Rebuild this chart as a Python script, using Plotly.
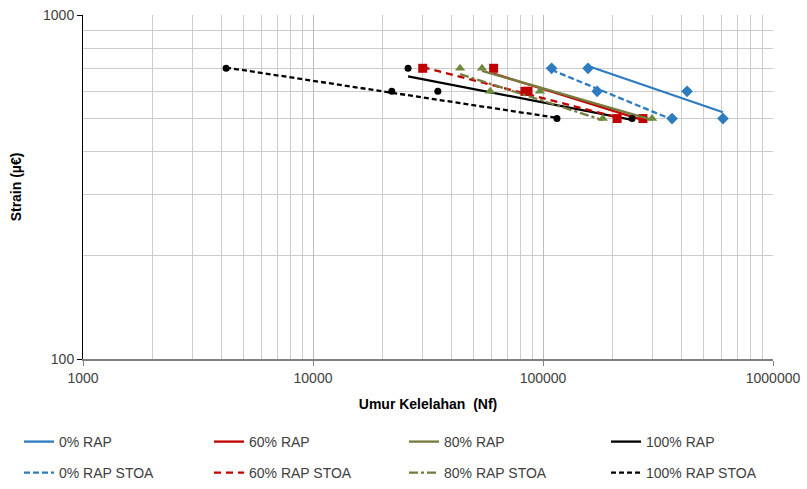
import numpy as np
import plotly.graph_objects as go

strain = [700, 600, 500]
n_0 = [157000, 423000, 606000]
n_0s = [109000, 172000, 364000]
n_60 = [61000, 86000, 272000]
n_60s = [30000, 83500, 210000]
n_80 = [54300, 97000, 298000]
n_80s = [43600, 58900, 182000]
n_100 = [25900, 34900, 244000]
n_100s = [4190, 22000, 115000]

series = [
    ("0% RAP", n_0, "#2E7BC0", "diamond", "solid"),
    ("60% RAP", n_60, "#C00000", "square", "solid"),
    ("80% RAP", n_80, "#767A3C", "triangle-up", "solid"),
    ("100% RAP", n_100, "#000000", "circle", "solid"),
    ("0% RAP STOA", n_0s, "#2E7BC0", "diamond", "6px,3px"),
    ("60% RAP STOA", n_60s, "#C00000", "square", "7px,5px"),
    ("80% RAP STOA", n_80s, "#767A3C", "triangle-up", "dashdot"),
    ("100% RAP STOA", n_100s, "#000000", "circle", "5px,3px"),
]
marker_col = {"#767A3C": "#6E8B3D"}

col_x = [19, 209, 404, 606]
row_y = [442, 473]

font = "Liberation Sans, Arial, sans-serif"
fig = go.Figure()
legends = {}
for i, (name, nf, col, sym, dash) in enumerate(series):
    lx = np.log10(nf)
    ly = np.log10(strain)
    b, a = np.polyfit(lx, ly, 1)
    xs = np.logspace(lx.min(), lx.max(), 30)
    ys = 10 ** (a + b * np.log10(xs))
    lname = "legend" if i == 0 else f"legend{i + 1}"
    legends[lname] = dict(
        orientation="h", xref="container", yref="container",
        x=col_x[i % 4] / 807, xanchor="left",
        y=1 - row_y[i // 4] / 489, yanchor="middle",
        font=dict(size=14, color="#404040"), itemwidth=30,
        bgcolor="rgba(0,0,0,0)")
    fig.add_trace(go.Scatter(x=xs, y=ys, mode="lines", name=name,
                             line=dict(color=col, width=2.3, dash=dash),
                             legend=lname))
    fig.add_trace(go.Scatter(x=nf, y=strain, mode="markers", showlegend=False,
                             marker=dict(color=marker_col.get(col, col), symbol=sym,
                                         size=9 if sym != "circle" else 7)))

decades_x = [1000, 10000, 100000, 1000000]
minor_x = [m * d for d in [1000, 10000, 100000] for m in range(2, 10)]
decades_y = [100, 1000]
minor_y = [m * 100 for m in range(2, 10)]

fig.update_layout(
    width=807, height=489,
    margin=dict(l=83, r=34, t=15, b=130, autoexpand=False),
    paper_bgcolor="white", plot_bgcolor="white",
    font=dict(family=font, size=14, color="#404040"),
    xaxis=dict(type="log", range=[3, 6], tickvals=decades_x,
               ticktext=[str(v) for v in decades_x],
               showgrid=True, gridcolor="#BBBBBB", gridwidth=1,
               ticks="outside", ticklen=5, tickcolor="#808080",
               showline=True, linecolor="#808080", linewidth=1.5,
               minor=dict(tickvals=minor_x, showgrid=True, gridcolor="#CCCCCC", ticks=""),
               title=dict(text="<b>Umur Kelelahan  (Nf)</b>", font=dict(size=14, color="#000000"), standoff=15),
               tickfont=dict(size=14, color="#404040"), zeroline=False),
    yaxis=dict(type="log", range=[2, 3], tickvals=decades_y,
               ticktext=[str(v) for v in decades_y],
               showgrid=True, gridcolor="#BBBBBB", gridwidth=1,
               ticks="outside", ticklen=5, tickcolor="#000000",
               showline=True, linecolor="#000000", linewidth=1,
               minor=dict(tickvals=minor_y, showgrid=True, gridcolor="#CCCCCC", ticks=""),
               title=dict(text="<b>Strain (µ€)</b>", font=dict(size=14, color="#000000"), standoff=18),
               tickfont=dict(size=14, color="#404040"), zeroline=False),
    **legends,
)
fig.write_html("out.html")
